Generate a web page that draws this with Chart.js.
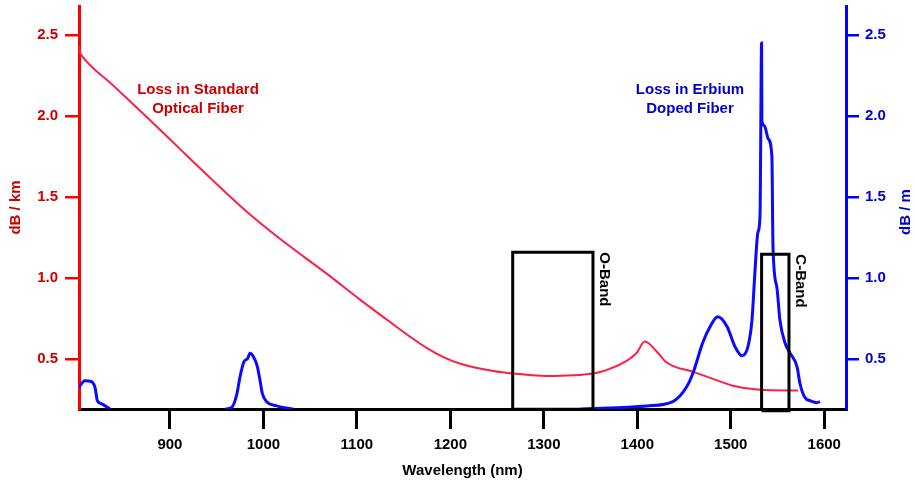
<!DOCTYPE html>
<html>
<head>
<meta charset="utf-8">
<script src="https://cdn.jsdelivr.net/npm/chart.js@4/dist/chart.umd.min.js"></script>
<style>
  html, body { margin: 0; padding: 0; background: #fff; }
</style>
</head>
<body>
<canvas id="myChart" width="915" height="485"></canvas>
<script>
  // wavelength axis (nm)
  const xTicks = [900, 1000, 1100, 1200, 1300, 1400, 1500, 1600];
  const yTicks = [0.5, 1.0, 1.5, 2.0, 2.5];

  // loss in standard optical fiber (dB / km)
  const redNm   = [802.7, 804, 806, 838, 874, 910, 945, 981, 1017, 1068, 1103, 1139, 1157, 1175, 1192, 1210, 1246, 1271, 1303, 1353, 1371, 1389, 1399, 1408, 1421, 1431, 1460, 1481, 1502, 1531, 1572];
  const redLoss = [2.43, 2.39, 2.37, 2.195, 2.00, 1.80, 1.607, 1.415, 1.245, 1.025, 0.868, 0.713, 0.637, 0.567, 0.513, 0.472, 0.425, 0.408, 0.395, 0.41, 0.44, 0.49, 0.535, 0.607, 0.545, 0.48, 0.42, 0.377, 0.335, 0.31, 0.305];

  // loss in erbium doped fiber (dB / m), null = gap
  const blueNm   = [802.7, 809, 816, 820, 822.3, 827, 836, 900, 959, 966, 971.4, 975, 979.2, 983.2, 985.6, 989.2, 993.5, 996.3, 998.8, 1003.5, 1014, 1032, 1200, 1339, 1410, 1438, 1453, 1460, 1470, 1478, 1486, 1496, 1504.5, 1512, 1518.4, 1522.7, 1526, 1529, 1531.3, 1533, 1533.3, 1536, 1540, 1544, 1545.2, 1549.4, 1552.6, 1558, 1563, 1571, 1574, 1579, 1586, 1592, 1595.4];
  const blueLoss = [0.326, 0.366, 0.36, 0.32, 0.243, 0.223, 0.19, null, 0.19, 0.20, 0.278, 0.39, 0.483, 0.504, 0.535, 0.515, 0.453, 0.37, 0.288, 0.236, 0.21, 0.19, null, 0.19, 0.21, 0.237, 0.33, 0.42, 0.60, 0.70, 0.76, 0.70, 0.576, 0.52, 0.576, 0.74, 1.05, 1.28, 1.38, 2.45, 1.97, 1.94, 1.86, 1.75, 1.19, 0.94, 0.74, 0.60, 0.54, 0.45, 0.35, 0.265, 0.24, 0.23, 0.237];

  // telecom bands
  const bandNames  = ["O-Band", "C-Band"];
  const bandStart  = [1266.7, 1533];
  const bandEnd    = [1352.6, 1562.3];
  const bandTop    = [1.158, 1.146];
  const bandBottom = [0.19, 0.18];

  const X_MIN = 802.7, X_MAX = 1623.3;
  const Y_MIN = 0.191, Y_MAX = 2.679;

  const FONT = '"Liberation Sans", Arial, Helvetica, sans-serif';
  const RED_AXIS = '#ff0000', RED_TEXT = '#cc0000', RED_LINE = '#ff1f45';
  const BLUE_AXIS = '#0000ff', BLUE_TEXT = '#0000cc', BLUE_LINE = '#0a0aff';

  const toPts = (xs, ys) => xs.map((x, i) => ({ x: x, y: ys[i] }));
  const noPad = s => { s.paddingTop = 0; s.paddingBottom = 0; s.paddingLeft = 0; s.paddingRight = 0; };

  const bandSets = bandNames.map((name, i) => ({
    label: name,
    data: [
      { x: bandStart[i], y: bandBottom[i] },
      { x: bandStart[i], y: bandTop[i] },
      { x: bandEnd[i], y: bandTop[i] },
      { x: bandEnd[i], y: bandBottom[i] },
      { x: bandStart[i], y: bandBottom[i] }
    ],
    yAxisID: 'y',
    borderColor: '#000',
    borderWidth: 3,
    borderJoinStyle: 'miter',
    tension: 0,
    pointRadius: 0,
    clip: false,
    order: 0
  }));

  const labelPlugin = {
    id: 'labels',
    afterDraw(chart) {
      const ctx = chart.ctx;
      const x = chart.scales.x, y = chart.scales.y;
      ctx.save();
      ctx.font = 'bold 15px ' + FONT;
      ctx.textAlign = 'center';
      ctx.textBaseline = 'middle';
      ctx.fillStyle = RED_TEXT;
      ctx.fillText('Loss in Standard', 198, 90);
      ctx.fillText('Optical Fiber', 198, 109);
      ctx.fillStyle = BLUE_TEXT;
      ctx.fillText('Loss in Erbium', 690, 90);
      ctx.fillText('Doped Fiber', 690, 109);

      // right axis title, reading bottom to top
      ctx.save();
      ctx.translate(906, 212);
      ctx.rotate(-Math.PI / 2);
      ctx.fillText('dB / m', 0, 0);
      ctx.restore();

      // band names, reading top to bottom
      ctx.font = 'bold 15px ' + FONT;
      ctx.fillStyle = '#000';
      ctx.textAlign = 'left';
      bandNames.forEach((name, i) => {
        const px = x.getPixelForValue(bandEnd[i]) + 11;
        const py = y.getPixelForValue(bandTop[i]);
        ctx.save();
        ctx.translate(px, py);
        ctx.rotate(Math.PI / 2);
        ctx.fillText(name, 0, 0);
        ctx.restore();
      });
      ctx.restore();
    }
  };

  const config = {
    type: 'line',
    data: {
      datasets: [
        ...bandSets,
        {
          label: 'Loss in Erbium Doped Fiber',
          data: toPts(blueNm, blueLoss),
          yAxisID: 'y1',
          borderColor: BLUE_LINE,
          borderWidth: 3,
          cubicInterpolationMode: 'monotone',
          pointRadius: 0,
          spanGaps: false,
          order: 1
        },
        {
          label: 'Loss in Standard Optical Fiber',
          data: toPts(redNm, redLoss),
          yAxisID: 'y',
          borderColor: RED_LINE,
          borderWidth: 2,
          cubicInterpolationMode: 'monotone',
          pointRadius: 0,
          order: 2
        }
      ]
    },
    options: {
      responsive: false,
      animation: false,
      devicePixelRatio: 1,
      layout: { padding: { top: 6, left: 0, right: 0, bottom: 0 } },
      plugins: {
        legend: { display: false },
        tooltip: { enabled: false }
      },
      scales: {
        x: {
          type: 'linear',
          position: 'bottom',
          min: X_MIN,
          max: X_MAX,
          afterBuildTicks: s => { s.ticks = xTicks.map(v => ({ value: v })); },
          afterFit: s => { s.height = 76; noPad(s); },
          ticks: {
            color: '#000',
            font: { family: FONT, size: 15, weight: 'bold' },
            padding: 7,
            maxRotation: 0,
            autoSkip: false,
            callback: v => String(v)
          },
          grid: {
            drawOnChartArea: false,
            tickLength: 20,
            color: '#000',
            lineWidth: 3
          },
          border: { color: '#000', width: 3 },
          title: {
            display: true,
            text: 'Wavelength (nm)',
            color: '#000',
            font: { family: FONT, size: 15, weight: 'bold' },
            padding: { top: 0, bottom: 5 }
          }
        },
        y: {
          type: 'linear',
          position: 'left',
          min: Y_MIN,
          max: Y_MAX,
          afterBuildTicks: s => { s.ticks = yTicks.map(v => ({ value: v })); },
          afterFit: s => { s.width = 79; noPad(s); },
          ticks: {
            color: RED_TEXT,
            font: { family: FONT, size: 15, weight: 'bold' },
            padding: 7,
            callback: v => v.toFixed(1)
          },
          grid: {
            drawOnChartArea: false,
            tickLength: 14,
            color: RED_AXIS,
            lineWidth: 2.5
          },
          border: { color: RED_AXIS, width: 3 },
          title: {
            display: true,
            text: 'dB / km',
            color: RED_TEXT,
            font: { family: FONT, size: 15, weight: 'bold' },
            padding: { top: 7, bottom: 0 }
          }
        },
        y1: {
          type: 'linear',
          position: 'right',
          min: Y_MIN,
          max: Y_MAX,
          afterBuildTicks: s => { s.ticks = yTicks.map(v => ({ value: v })); },
          afterFit: s => { s.width = 69; noPad(s); },
          ticks: {
            color: BLUE_TEXT,
            font: { family: FONT, size: 15, weight: 'bold' },
            padding: 6,
            callback: v => v.toFixed(1)
          },
          grid: {
            drawOnChartArea: false,
            tickLength: 13,
            color: BLUE_AXIS,
            lineWidth: 2.5
          },
          border: { color: BLUE_AXIS, width: 3 }
        }
      }
    },
    plugins: [labelPlugin]
  };

  const myChart = new Chart(document.getElementById('myChart'), config);
</script>
</body>
</html>
